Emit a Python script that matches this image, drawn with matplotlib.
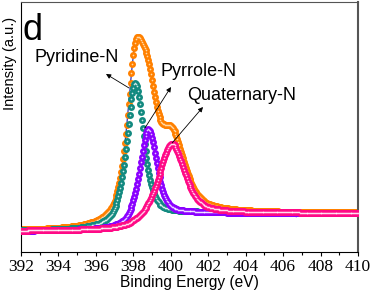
import numpy as np
import matplotlib
matplotlib.use("Agg")
import matplotlib.pyplot as plt

# N 1s fit (a.u. = height above the x axis)
peak_names = ["Pyridine-N", "Pyrrole-N", "Quaternary-N"]
peak_centers = [398.1, 398.8, 400.05]     # eV
peak_heights = [143, 92, 73]             # above background
peak_fwhm = [1.1, 1.1, 1.6]               # eV
peak_eta = [0.65, 0.6, 0.6]               # lorentzian fraction
peak_colors = ["#138a80", "#8a00ff", "#ff0a86"]
bg_low = 21      # background at 392 eV
bg_high = 39     # background at 410 eV

# visible noise spikes in the raw trace (eV, depth)
dip_pos = [393.4, 394.8, 395.3, 406.7, 407.8, 408.1, 408.5, 408.7, 409.0, 409.25, 409.5, 409.9]
dip_depth = [2, 3, 3, 5, 3, 2, 3, 4, 2, 3, 4, 3]

be = np.arange(392, 410.001, 0.05)


def pvoigt(x, c, h, fwhm, eta):
    hw = fwhm / 2
    u = (x - c) / hw
    return h * (eta / (1 + u ** 2) + (1 - eta) * np.exp(-np.log(2) * u ** 2))


comps = [pvoigt(be, c, h, w, e) for c, h, w, e in zip(peak_centers, peak_heights, peak_fwhm, peak_eta)]
total = np.sum(comps, axis=0)
# shirley-like step background
bg = bg_low + (bg_high - bg_low) * np.cumsum(total) / np.sum(total)
envelope = total + bg

raw = envelope.copy()
for p, d in zip(dip_pos, dip_depth):
    i = np.argmin(np.abs(be - p))
    raw[i] -= d

fig = plt.figure(figsize=(3.7, 2.95), dpi=100)
ax = fig.add_axes([21 / 370, 1 - 252 / 295, 337 / 370, 250 / 295])

ax.plot(be, raw, color="#1c1ca8", lw=0.8, zorder=1)
ax.plot(be, envelope, "o", color="#ff8000", ms=5, mec="none", zorder=2)
ax.plot(be, envelope, "o", color="#ffd9a8", ms=1.2, mec="none", zorder=2)
for k, (comp, col) in enumerate(zip(comps, peak_colors)):
    ax.plot(be, comp + bg, "o", color=col, ms=5, mec="none", zorder=3 + k)
    ax.plot(be, comp + bg, "o", color="white", ms=1.2, mec="none", alpha=0.8, zorder=3 + k)

ax.set_xlim(392, 410)
ax.set_ylim(0, 250)
ax.set_xticks(np.arange(392, 411, 2))
ax.set_xticks(np.arange(393, 410, 2), minor=True)
ax.set_yticks([])
ax.tick_params(axis="x", direction="out", length=3, width=0.8, pad=2,
               labelsize=12.5, labelfontfamily="Liberation Serif")
ax.tick_params(axis="x", which="minor", direction="out", length=2, width=0.8)
for s in ["top", "right"]:
    ax.spines[s].set_color("#555555")
ax.spines["right"].set_linewidth(1.5)

ax.set_xlabel("Binding Energy (eV)", family="Liberation Sans", fontsize=11.2, labelpad=0)
ax.set_ylabel("Intensity (a.u.)", family="Liberation Sans", fontsize=10.5)
ax.yaxis.set_label_coords(-0.012, 0.756)

ax.text(392.1, 212, "d", family="Liberation Sans", fontsize=26, va="baseline", ha="left")

arrow = dict(arrowstyle="-|>", color="black", lw=0.6, mutation_scale=7, shrinkA=0, shrinkB=0)
ax.annotate("", xy=(396.54, 178), xytext=(397.77, 164), arrowprops=arrow, zorder=10)
ax.annotate("", xy=(400.01, 165), xytext=(398.62, 124), arrowprops=arrow, zorder=10)
ax.annotate("", xy=(401.72, 145), xytext=(400.07, 109), arrowprops=arrow, zorder=10)
ax.text(395.0, 195, peak_names[0], family="Liberation Sans", fontsize=13, ha="center", va="center")
ax.text(401.5, 181, peak_names[1], family="Liberation Sans", fontsize=13, ha="center", va="center")
ax.text(403.8, 157, peak_names[2], family="Liberation Sans", fontsize=13, ha="center", va="center")

fig.savefig("out.png", dpi=100)
